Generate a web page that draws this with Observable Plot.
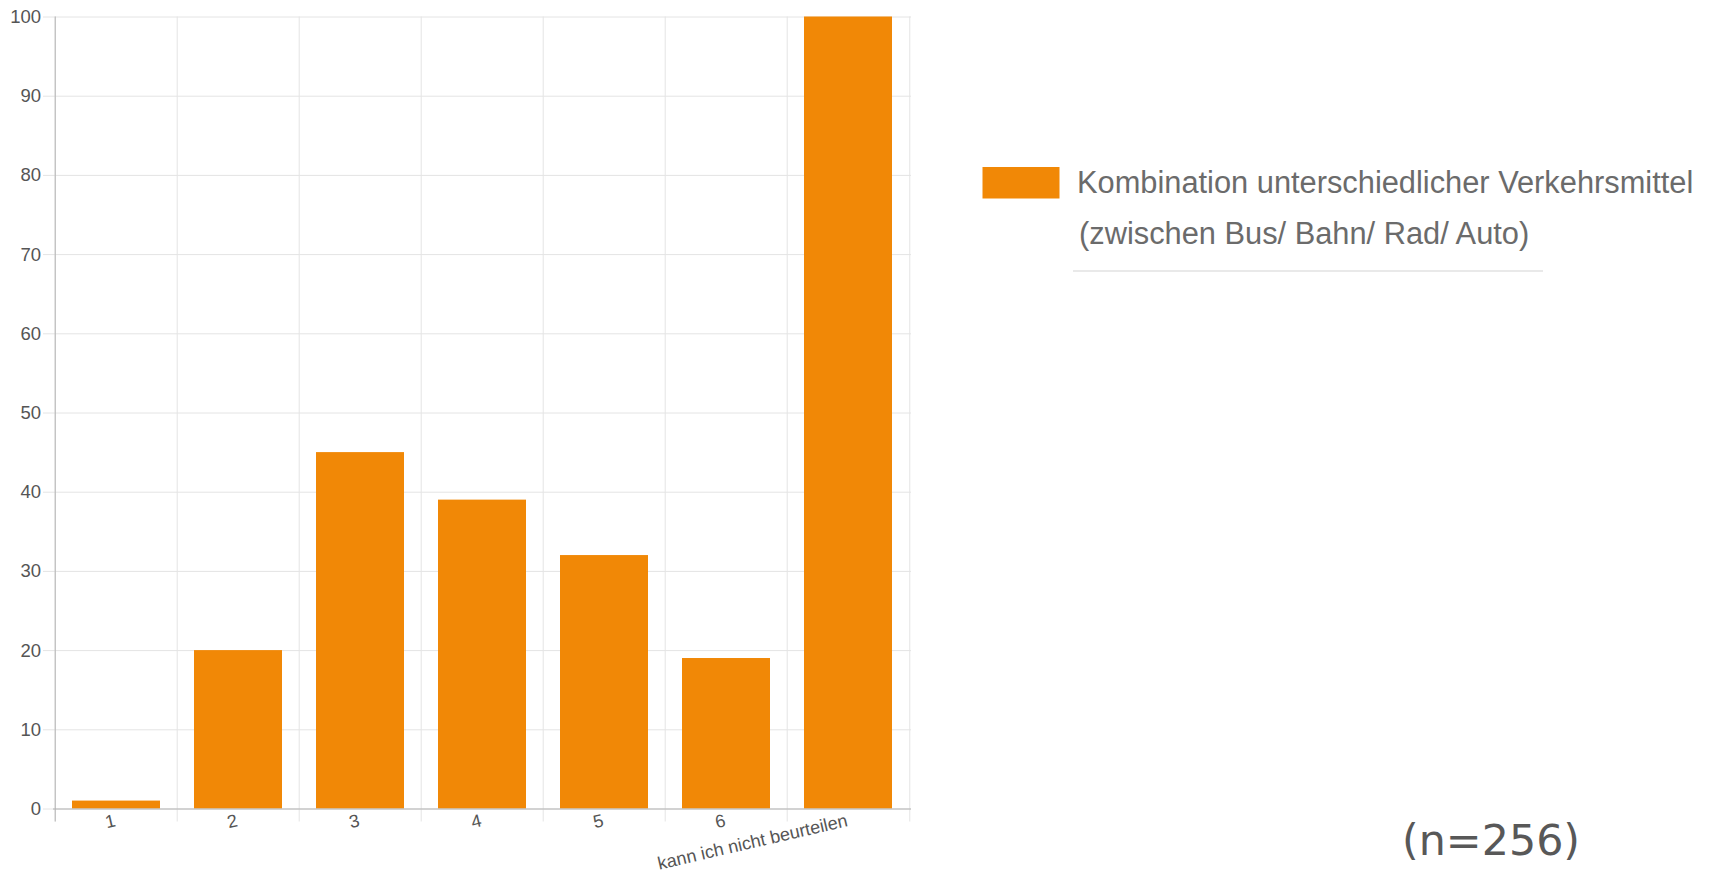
<!DOCTYPE html>
<html>
<head>
<meta charset="utf-8">
<script src="https://cdn.jsdelivr.net/npm/d3@7"></script>
<script src="https://cdn.jsdelivr.net/npm/@observablehq/plot@0.6"></script>
<style>
  html, body { margin: 0; padding: 0; background: #fff; overflow: hidden; }
  #wrap { position: relative; width: 1710px; height: 878px; }
  #wrap svg { position: absolute; left: 0; top: 0; }
</style>
</head>
<body>
<div id="wrap"></div>
<script>
// ---- data ----
const categories = ["1", "2", "3", "4", "5", "6", "kann ich nicht beurteilen"];
const values = [1, 20, 45, 39, 32, 19, 100];
const yTicks = [0, 10, 20, 30, 40, 50, 60, 70, 80, 90, 100];
const seriesLine1 = "Kombination unterschiedlicher Verkehrsmittel";
const seriesLine2 = "(zwischen Bus/ Bahn/ Rad/ Auto)";
const captionText = "(n=256)";

// ---- layout ----
const W = 1710, H = 878;
const mL = 53, mR = 799, mT = 16.5, mB = 69.5;
const step = (W - mL - mR) / categories.length;
const orange = "#f18806";
const gridColor = "#e4e4e4";
const axisColor = "#b3b3b3";
const labelColor = "#555";

const data = categories.map((c, i) => ({category: c, value: values[i]}));
const lastCat = [categories[categories.length - 1]];
const firstCat = [categories[0]];

const chart = Plot.plot({
  width: W, height: H,
  marginLeft: mL, marginRight: mR, marginTop: mT, marginBottom: mB,
  style: {fontFamily: "'Liberation Sans', Arial, sans-serif", background: "transparent", overflow: "visible"},
  x: {domain: categories, paddingInner: 0.28, paddingOuter: 0.14, axis: null},
  y: {domain: [0, 100], axis: null},
  marks: [
    Plot.ruleY(yTicks, {stroke: gridColor, insetLeft: -10}),
    Plot.ruleX(categories, {dx: -step / 2, stroke: gridColor, insetBottom: -13}),
    Plot.ruleX(lastCat, {dx: step / 2, stroke: gridColor, insetBottom: -13}),
    Plot.barY(data, {x: "category", y: "value", fill: orange}),
    Plot.ruleY([0], {stroke: axisColor}),
    Plot.ruleX(firstCat, {dx: -step / 2, stroke: axisColor, insetBottom: -13}),
    Plot.axisY(yTicks, {tickSize: 0, tickPadding: 12.5, fontSize: 18.5, fill: labelColor, label: null}),
    Plot.text(categories, {
      x: d => d, frameAnchor: "bottom", dy: 17, rotate: -13,
      textAnchor: "end", lineAnchor: "bottom", fontSize: 18, fill: labelColor
    })
  ]
});

const wrap = document.getElementById("wrap");
wrap.appendChild(chart);

// ---- legend & caption ----
const leg = d3.create("svg").attr("width", W).attr("height", H);
leg.append("rect").attr("x", 982.5).attr("y", 167).attr("width", 77).attr("height", 31.5).attr("fill", orange);
const lf = "'Liberation Sans', Arial, sans-serif";
leg.append("text").attr("x", 1077).attr("y", 193).attr("font-family", lf).attr("font-size", 30.8)
  .attr("fill", "#6b6b6b").text(seriesLine1);
leg.append("text").attr("x", 1079).attr("y", 244).attr("font-family", lf).attr("font-size", 30.8)
  .attr("fill", "#6b6b6b").text(seriesLine2);
leg.append("line").attr("x1", 1073).attr("x2", 1543).attr("y1", 271).attr("y2", 271)
  .attr("stroke", "#e2e2e2").attr("stroke-width", 1.5);
leg.append("text").attr("x", 1402).attr("y", 855).attr("font-family", "'DejaVu Sans', sans-serif")
  .attr("font-size", 42.8).attr("fill", "#585858").text(captionText);
wrap.appendChild(leg.node());
</script>
</body>
</html>
